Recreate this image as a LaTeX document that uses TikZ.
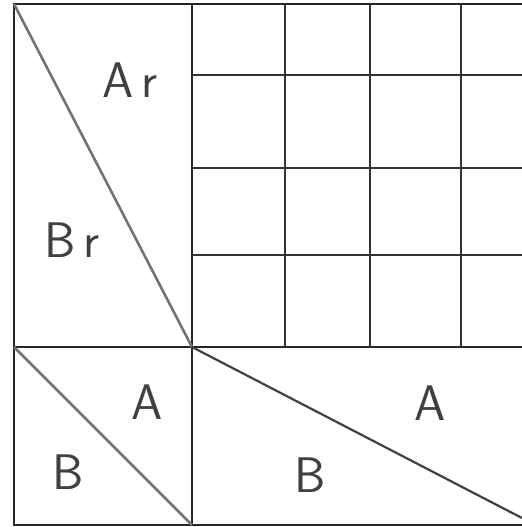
\documentclass[tikz,border=0pt]{standalone}
\usetikzlibrary{positioning}
\begin{document}
\begin{tikzpicture}[
    x=0.5pt, y=-0.5pt,
    edge/.style={draw=black!85, line width=1.1pt},
    grid/.style={draw=black!80, line width=1pt},
    diag/.style={draw=black!55, line width=1.3pt},
    lbl/.style={font=\sffamily\fontsize{25}{30}\selectfont, text=black!75, inner sep=0pt}
  ]
  \useasboundingbox (0,0) rectangle (522,527);

  % sheet corners and dividers
  \coordinate (tl) at (14,4);
  \coordinate (tr) at (522,4);
  \coordinate (bl) at (14,525);
  \coordinate (br) at (522,525);
  \coordinate (mt) at (192,4);
  \coordinate (mb) at (192,525);
  \coordinate (ml) at (14,347);
  \coordinate (mc) at (192,347);
  \coordinate (mr) at (522,347);
  \coordinate (de) at (522,518);

  % outline
  \draw[edge] (tr) -- (tl) -- (bl) -- (br);
  \draw[edge] (mt) -- (mb);
  \draw[edge] (ml) -- (mr);

  % grid, top right
  \foreach \gx in {285,370,461}
    \draw[grid] (\gx,4) -- (\gx,347);
  \foreach \gy in {75,168,255}
    \draw[grid] (192,\gy) -- (522,\gy);

  % diagonals
  \draw[diag] (tl) -- (mc);
  \draw[diag] (ml) -- (mb);
  \draw[diag, draw=black!75, line width=1.1pt] (mc) -- (de);

  % labels
  \node[lbl] (ar) at (130,80) {A\,r};
  \node[lbl] (brr) at (72,240) {B\,r};
  \node[lbl] (a1) at (147,402) {A};
  \node[lbl] (b1) at (68,472) {B};
  \node[lbl] (a2) at (430,403) {A};
  \node[lbl] (b2) at (310,475) {B};
\end{tikzpicture}
\end{document}
